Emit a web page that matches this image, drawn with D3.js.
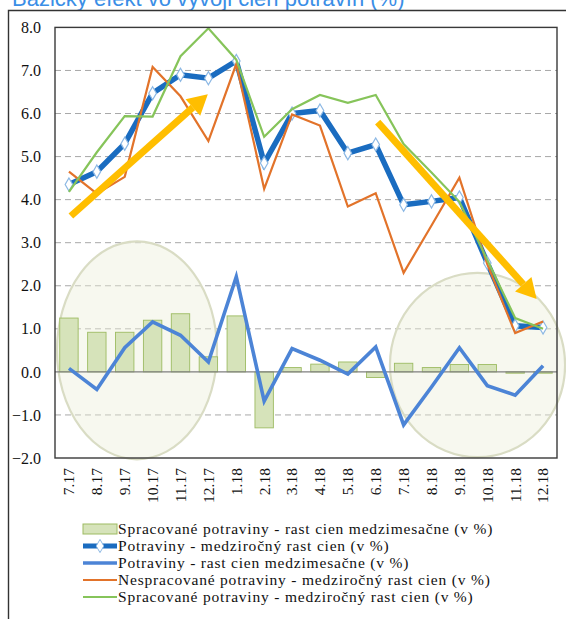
<!DOCTYPE html>
<html><head><meta charset="utf-8">
<script src="https://cdn.jsdelivr.net/npm/d3@7"></script>
<style>body{margin:0;background:#fff}svg{display:block}
.serif, .serif text{font-family:"Liberation Serif","Times New Roman",serif !important}
</style>
</head><body>
<svg id="c" width="566" height="619"></svg>
<script>
const months = ["7.17","8.17","9.17","10.17","11.17","12.17","1.18","2.18","3.18","4.18","5.18","6.18","7.18","8.18","9.18","10.18","11.18","12.18"];
const processedMoM = [1.25,0.92,0.92,1.2,1.35,0.35,1.3,-1.3,0.1,0.18,0.23,-0.13,0.2,0.1,0.17,0.17,-0.03,-0.03];
const foodYoY = [4.35,4.65,5.3,6.47,6.9,6.82,7.22,4.85,6.0,6.07,5.08,5.28,3.88,3.96,4.05,2.53,1.07,1.03];
const foodMoM = [0.08,-0.41,0.56,1.16,0.85,0.23,2.21,-0.68,0.54,0.27,-0.05,0.58,-1.23,-0.35,0.56,-0.32,-0.54,0.14];
const unprocessedYoY = [4.65,4.14,4.53,7.08,6.4,5.36,7.15,4.25,5.98,5.72,3.84,4.15,2.3,3.4,4.51,2.5,0.9,1.17];
const processedYoY = [4.18,5.1,5.94,5.93,7.33,7.98,7.25,5.46,6.1,6.43,6.25,6.43,5.29,4.63,3.95,2.6,1.25,1.0];
const yTicks = [8,7,6,5,4,3,2,1,0,-1,-2];
const seriesNames = ["Spracované potraviny - rast cien medzimesačne (v %)","Potraviny - medziročný rast cien (v %)","Potraviny - rast cien medzimesačne (v %)","Nespracované potraviny - medziročný rast cien (v %)","Spracované potraviny - medziročný rast cien (v %)"];
const title = "Bázický efekt vo vývoji cien potravín (%)";
// annotation shapes (category index, value)
const arrows = [[[0.07,3.62],[4.98,6.45]],[[11.07,5.8],[16.77,1.69]]];
const ellipses = [[2.44,0.5,2.87,2.53],[14.65,0.16,3.14,2.14]];

const svg = d3.select("#c");
const L=55,R=557,T=27.4,B=458;
const x = d3.scaleBand().domain(months).range([L,R]).paddingInner(0.34).paddingOuter(0.17);
const step = x.step();
const cx = i => x(months[i]) + x.bandwidth()/2;
const xi = v => x(months[0]) + x.bandwidth()/2 + v*step;
const y = d3.scaleLinear().domain([-2,8]).range([B,T]);

// title
svg.append("text").attr("x",12).attr("y",5.5).style("font-family","'Liberation Sans',Arial,sans-serif")
  .attr("font-size",22).attr("fill","#3A8EE6").text(title);
// outer frame
svg.append("path").attr("d","M8.5,619V10.5H566").attr("fill","none").attr("stroke","#333").attr("stroke-width",1.4);

// grid
svg.append("g").selectAll("line").data(yTicks.filter(t=>t!==0 && t!==8 && t!==-2)).join("line")
  .attr("x1",L).attr("x2",R).attr("y1",d=>y(d)).attr("y2",d=>y(d))
  .attr("stroke","#A8A8A8").attr("stroke-width",1).attr("stroke-dasharray","6,4");

// ellipses
svg.append("g").selectAll("ellipse").data(ellipses).join("ellipse")
  .attr("cx",d=>xi(d[0])).attr("cy",d=>y(d[1])).attr("rx",d=>d[2]*step).attr("ry",d=>y(0)-y(d[3]))
  .attr("fill","rgba(236,238,214,0.4)").attr("stroke","#D9DCC4").attr("stroke-width",2.2);

// bars
svg.append("g").selectAll("rect").data(processedMoM).join("rect")
  .attr("x",(d,i)=>x(months[i])).attr("width",x.bandwidth())
  .attr("y",d=>y(Math.max(0,d))).attr("height",d=>Math.abs(y(d)-y(0)))
  .attr("fill","#D6E3BA").attr("stroke","#9DBB62").attr("stroke-width",0.9);

// zero line
svg.append("line").attr("x1",L).attr("x2",R).attr("y1",y(0)).attr("y2",y(0)).attr("stroke","#7F7F7F").attr("stroke-width",1.2);

const line = d3.line().x((d,i)=>cx(i)).y(d=>y(d));
const drawLine=(data,color,w)=>svg.append("path").datum(data).attr("d",line).attr("fill","none")
  .attr("stroke",color).attr("stroke-width",w).attr("stroke-linejoin","miter");

drawLine(foodMoM,"#4C84D6",3.6);
drawLine(foodYoY,"#1A6CC0",5.5);
svg.append("g").selectAll("path").data(foodYoY).join("path")
  .attr("d",d3.symbol(d3.symbolDiamond,50))
  .attr("transform",(d,i)=>`translate(${cx(i)},${y(d)})`)
  .attr("fill","#fff").attr("stroke","#8CB8E4").attr("stroke-width",1.2);
drawLine(unprocessedYoY,"#E2732A",2.2);
drawLine(processedYoY,"#86C45A",2.2);

// arrows
arrows.forEach(a=>{
  const x1=xi(a[0][0]),y1=y(a[0][1]),x2=xi(a[1][0]),y2=y(a[1][1]);
  const ang=Math.atan2(y2-y1,x2-x1), hl=20, hw=11;
  const bx=x2-hl*Math.cos(ang), by=y2-hl*Math.sin(ang);
  svg.append("line").attr("x1",x1).attr("y1",y1).attr("x2",bx).attr("y2",by)
    .attr("stroke","#FFBE00").attr("stroke-width",7);
  const px=-Math.sin(ang), py=Math.cos(ang);
  svg.append("path").attr("d",`M${x2},${y2}L${bx+hw*px},${by+hw*py}L${bx-hw*px},${by-hw*py}Z`).attr("fill","#FFBE00");
});

// plot border
svg.append("rect").attr("x",L).attr("y",T).attr("width",R-L).attr("height",B-T)
  .attr("fill","none").attr("stroke","#3A3A3A").attr("stroke-width",1.4);

// y axis
const ya = svg.append("g").attr("class","serif").attr("transform",`translate(${L},0)`)
  .call(d3.axisLeft(y).tickValues(yTicks).tickSize(0).tickPadding(14).tickFormat(d3.format(".1f")));
ya.select(".domain").remove();
ya.selectAll("text").attr("font-size",16).attr("fill","#111");

// x axis
const xa = svg.append("g").attr("class","serif").attr("transform",`translate(0,${B})`)
  .call(d3.axisBottom(x).tickSize(0).tickPadding(0));
xa.select(".domain").remove();
xa.selectAll("text").attr("font-size",15.5).attr("fill","#111")
  .attr("transform","rotate(-90)").attr("text-anchor","end").attr("x",-10).attr("y",0).attr("dy","0.35em");

// legend
const lg = svg.append("g").attr("class","serif").attr("font-size",15.5).attr("letter-spacing",0.8).attr("fill","#111");
const ly0=529, ldy=17, lx=83, lw=34;
seriesNames.forEach((n,i)=>{
  const yy=ly0+i*ldy;
  lg.append("text").attr("x",lx+lw+1).attr("y",yy).attr("dy","0.35em").text(n);
});
lg.append("rect").attr("x",lx).attr("y",ly0-5).attr("width",lw).attr("height",10).attr("fill","#D6E3BA").attr("stroke","#9DBB62");
lg.append("line").attr("x1",lx).attr("x2",lx+lw).attr("y1",ly0+ldy).attr("y2",ly0+ldy).attr("stroke","#1A6CC0").attr("stroke-width",5);
lg.append("path").attr("d",d3.symbol(d3.symbolDiamond,50)).attr("transform",`translate(${lx+lw/2},${ly0+ldy})`).attr("fill","#fff").attr("stroke","#8CB8E4");
lg.append("line").attr("x1",lx).attr("x2",lx+lw).attr("y1",ly0+2*ldy).attr("y2",ly0+2*ldy).attr("stroke","#4C84D6").attr("stroke-width",3.5);
lg.append("line").attr("x1",lx).attr("x2",lx+lw).attr("y1",ly0+3*ldy).attr("y2",ly0+3*ldy).attr("stroke","#E2732A").attr("stroke-width",2.2);
lg.append("line").attr("x1",lx).attr("x2",lx+lw).attr("y1",ly0+4*ldy).attr("y2",ly0+4*ldy).attr("stroke","#86C45A").attr("stroke-width",2.2);
</script>
</body></html>
